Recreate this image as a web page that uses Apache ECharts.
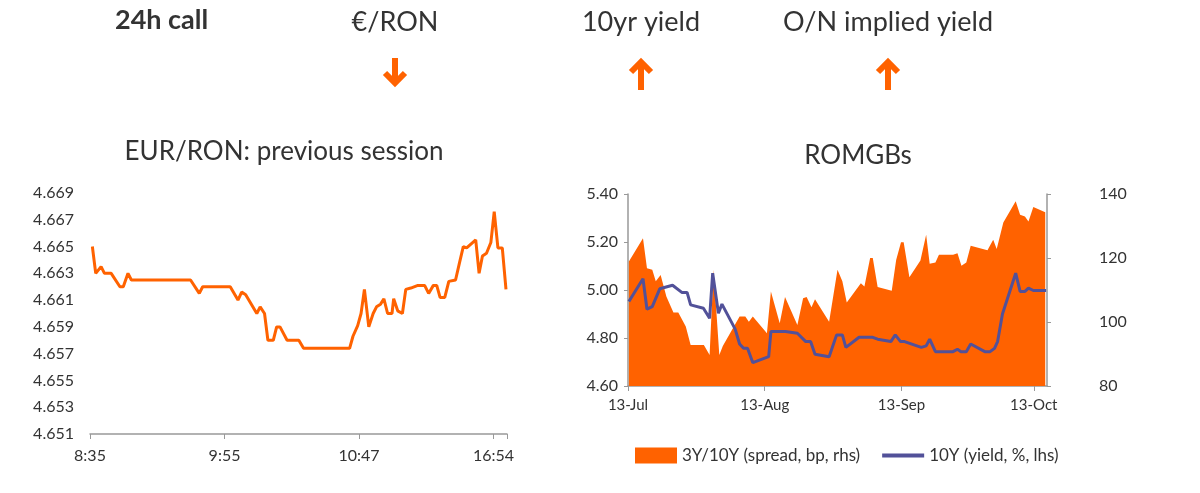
<!DOCTYPE html>
<html><head><meta charset="utf-8">
<script src="https://cdn.jsdelivr.net/npm/echarts@6/dist/echarts.min.js"></script>
<style>html,body{margin:0;padding:0;background:#fff}#c{width:1200px;height:493px}</style>
</head><body><div id="c"></div>
<script>
// Left chart: EUR/RON previous session (t = time index, v = rate)
const eurT = [0.7,1.7,3.3,4.3,6.3,8.9,9.9,11.3,12.3,29.9,32.5,33.5,41.7,44.0,45.1,46.3,49.6,50.6,51.9,52.9,54.5,55.5,56.5,58.6,62.1,63.5,77.2,78.2,79.6,80.6,81.6,82.9,84.2,85.2,86.4,87.4,88.5,89.8,90.3,91.5,92.9,93.9,95.4,97.5,99.5,100.7,102.1,103.1,104.1,105.5,106.7,108.7,109.8,111.0,112.0,114.7,115.7,116.7,117.9,119.2,120.2,121.3,122.6,123.7];
const eurV = [4.665,4.663,4.6635,4.663,4.663,4.662,4.662,4.663,4.6625,4.6625,4.6615,4.662,4.662,4.661,4.6616,4.6614,4.660,4.6605,4.660,4.658,4.658,4.659,4.659,4.658,4.658,4.6574,4.6574,4.6583,4.6591,4.660,4.6618,4.659,4.660,4.6605,4.6607,4.6611,4.660,4.660,4.6611,4.6602,4.660,4.6618,4.6619,4.6621,4.6621,4.6615,4.6621,4.6621,4.6612,4.6612,4.6624,4.6625,4.6637,4.665,4.6649,4.6655,4.663,4.6643,4.6645,4.6653,4.6676,4.6649,4.6649,4.6618];
const eurTicks = {0:'8:35',40:'9:55',80:'10:47',120:'16:54'};
const eurBase = 4.651;
const eurYTicks = ['4.651','4.653','4.655','4.657','4.659','4.661','4.663','4.665','4.667','4.669'];

// Right chart: ROMGBs (d = days since 13-Jul)
const sprD = [0.2,3.4,4.3,5.5,6.3,7.4,8.7,10.3,11.4,13.1,14.2,17.2,18.5,19.4,20.7,21.5,25.3,26.6,27.4,28.3,31.5,32.4,34.4,35.6,38.4,39.7,40.5,41.6,42.4,45.6,47.5,48.6,49.6,52.8,53.6,54.9,55.5,56.6,59.8,60.8,61.9,62.5,63.8,66.3,67.6,68.4,69.7,70.5,73.7,74.7,75.6,76.7,77.7,81.5,82.8,83.6,85.1,87.9,88.9,90.0,90.8,91.9,94.6];
const sprV = [118.9,126.2,116.8,116.3,112.7,114.7,108.0,103.0,103.0,98.6,92.8,92.8,89.7,116.3,89.7,92.5,101.7,101.7,100.1,101.7,96.5,109.5,99.6,107.8,99.1,107.4,107.8,104.6,107.1,100.1,116.3,112.7,106.1,112.1,111.1,120.0,120.0,110.9,109.8,119.4,124.9,124.9,114.0,119.2,127.3,118.2,118.6,121.0,121.0,121.5,117.6,118.6,123.8,122.4,125.7,122.8,131.1,137.7,133.5,133.0,131.4,135.9,134.3];
const ylD = [0.2,3.4,4.3,5.5,7.2,10.1,12.2,13.4,14.2,17.1,18.5,19.2,20.5,21.3,24.3,25.3,26.2,27.1,28.3,31.9,32.4,35.7,38.4,40.3,41.4,42.4,45.6,47.3,48.6,49.4,52.4,55.5,56.6,59.6,60.6,61.8,62.7,66.5,67.6,68.4,69.7,73.7,74.7,75.5,76.7,77.7,80.9,82.1,83.1,83.8,84.9,87.9,88.9,90.0,90.8,91.9,94.8];
const ylV = [4.952,5.047,4.920,4.931,5.005,5.020,4.990,4.990,4.938,4.924,4.882,5.070,4.903,4.941,4.837,4.775,4.757,4.757,4.697,4.722,4.827,4.827,4.820,4.785,4.785,4.732,4.722,4.813,4.813,4.761,4.803,4.803,4.795,4.785,4.813,4.785,4.785,4.761,4.767,4.795,4.743,4.743,4.753,4.743,4.743,4.775,4.743,4.743,4.757,4.785,4.900,5.070,4.994,4.994,5.008,4.998,4.998];
const romTicks = {0:'13-Jul',31:'13-Aug',62:'13-Sep',92:'13-Oct'};

const ORANGE = '#FF6200', BLUE = '#525199', TXT = '#333';
const F = 'Lato, "Open Sans", sans-serif';
const chart = echarts.init(document.getElementById('c'));
const lab = {color: TXT, fontSize: 16, fontFamily: F};
function arrow(x, y0, y1) {
  const dir = y1 > y0 ? 1 : -1;
  return [
    {type:'line', shape:{x1:x, y1:y0, x2:x, y2:y1 - dir*3}, style:{stroke:ORANGE, lineWidth:6}},
    {type:'polyline', shape:{points:[[x-10, y1-dir*11],[x, y1-dir*1],[x+10, y1-dir*11]]}, style:{stroke:ORANGE, lineWidth:6, fill:null, lineJoin:'miter'}}
  ];
}
chart.setOption({
  animation: false,
  graphic: [
    {type:'text', left:115, top:7, style:{text:'24h call', font:'bold 27px '+F, fill:TXT}},
    {type:'text', x:395, y:22, style:{text:'€/RON', font:'27px '+F, fill:TXT, align:'center', verticalAlign:'middle'}},
    {type:'text', x:641, y:22, style:{text:'10yr yield', font:'27px '+F, fill:TXT, align:'center', verticalAlign:'middle'}},
    {type:'text', x:888, y:22, style:{text:'O/N implied yield', font:'27px '+F, fill:TXT, align:'center', verticalAlign:'middle'}},
    ...arrow(395, 58, 84),
    ...arrow(641, 90, 61),
    ...arrow(888, 90, 61),
    {type:'text', x:284, y:152, style:{text:'EUR/RON: previous session', font:'26px '+F, fill:TXT, align:'center', verticalAlign:'middle'}},
    {type:'text', x:858, y:156, style:{text:'ROMGBs', font:'26px '+F, fill:TXT, align:'center', verticalAlign:'middle'}}
  ],
  legend: {left: 630, top: 442, itemWidth: 42, itemHeight: 16, itemGap: 20,
    textStyle: {color: TXT, fontSize: 17, fontFamily: F},
    data: [{name:'3Y/10Y (spread, bp, rhs)', icon:'rect'},
           {name:'10Y (yield, %, lhs)', itemStyle:{opacity:0}, lineStyle:{width:4, color:BLUE}}]},
  grid: [
    {left: 90, right: 693, top: 193, bottom: 59},
    {left: 628, right: 153, top: 194, bottom: 107}
  ],
  xAxis: [
    {type:'value', gridIndex:0, min:0, max:124, interval:40, splitLine:{show:false},
     axisLine:{lineStyle:{color:'#999', width:1.5}}, axisTick:{show:true, length:5, lineStyle:{color:'#999'}},
     axisLabel:{...lab, margin:14, formatter: v => eurTicks[v] || ''}},
    {type:'value', gridIndex:1, min:0, max:95, splitLine:{show:false},
     axisLine:{lineStyle:{color:'#999', width:1.5}},
     axisTick:{show:true, length:5, customValues:[0,31,62,92], lineStyle:{color:'#999'}},
     axisLabel:{...lab, fontSize:15, margin:12, customValues:[0,31,62,92], formatter: v => romTicks[v] || ''}}
  ],
  yAxis: [
    {type:'value', gridIndex:0, min:0, max:0.018, interval:0.002, splitLine:{show:false},
     axisLine:{show:false}, axisTick:{show:false},
     axisLabel:{...lab, margin:16, formatter: v => eurYTicks[Math.round(v/0.002)]}},
    {type:'value', gridIndex:1, min:4.6, max:5.4, interval:0.2, splitLine:{show:false},
     axisLine:{show:true, lineStyle:{color:'#999', width:1.5}}, axisTick:{show:true, length:4, lineStyle:{color:'#999'}},
     axisLabel:{...lab, margin:10, formatter: v => v.toFixed(2)}},
    {type:'value', gridIndex:1, position:'right', min:80, max:140, interval:20, splitLine:{show:false},
     axisLine:{show:true, lineStyle:{color:'#999', width:1.5}}, axisTick:{show:true, length:4, lineStyle:{color:'#999'}},
     axisLabel:{...lab, margin:52}}
  ],
  series: [
    {type:'line', xAxisIndex:0, yAxisIndex:0, symbol:'none', lineStyle:{color:ORANGE, width:3}, itemStyle:{color:ORANGE},
     data: eurT.map((t,i) => [t, +(eurV[i]-eurBase).toFixed(5)])},
    {name:'3Y/10Y (spread, bp, rhs)', type:'line', xAxisIndex:1, yAxisIndex:2, symbol:'none',
     lineStyle:{width:0}, areaStyle:{color:ORANGE, opacity:1}, itemStyle:{color:ORANGE},
     data: sprD.map((d,i) => [d, sprV[i]])},
    {name:'10Y (yield, %, lhs)', type:'line', xAxisIndex:1, yAxisIndex:1, symbol:'none', z:5,
     lineStyle:{color:BLUE, width:3}, itemStyle:{color:BLUE},
     data: ylD.map((d,i) => [d, ylV[i]])}
  ]
});
</script></body></html>
